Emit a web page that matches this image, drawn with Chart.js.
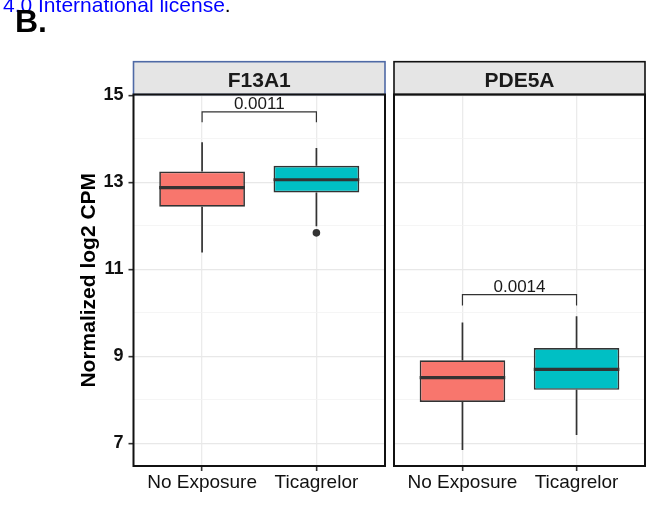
<!DOCTYPE html>
<html>
<head>
<meta charset="utf-8">
<script src="https://cdn.jsdelivr.net/npm/chart.js@4/dist/chart.umd.min.js"></script>
<style>
  html, body { margin: 0; padding: 0; background: #fff; }
  body { width: 654px; height: 508px; position: relative; overflow: hidden; font-family: "Liberation Sans", Arial, sans-serif; }
  canvas { position: absolute; left: 0; top: 0; }
  .license { position: absolute; left: 3px; top: -6px; font-size: 21px; line-height: 21px; color: #0000ff; white-space: nowrap; }
  .license span { color: #000; }
  .tag { position: absolute; left: 15px; top: 5px; font-size: 32px; line-height: 32px; font-weight: bold; color: #000; }
</style>
</head>
<body>
<canvas id="panelF13A1" width="654" height="508"></canvas>
<canvas id="panelPDE5A" width="654" height="508"></canvas>
<div class="license">4.0 International license<span>.</span></div>
<div class="tag">B.</div>
<script>
const categories = ['No Exposure', 'Ticagrelor'];
const genes = ['F13A1', 'PDE5A'];
// [lower whisker, Q1, median, Q3, upper whisker] for each category
const f13a1Stats = [[11.39, 12.44, 12.88, 13.25, 13.92], [11.99, 12.77, 13.06, 13.38, 13.79]];
const pde5aStats = [[6.85, 7.95, 8.51, 8.91, 9.78], [7.19, 8.23, 8.70, 9.19, 9.92]];
const f13a1Outliers = [[], [11.84]];
const pde5aOutliers = [[], []];
const pValues = ['0.0011', '0.0014'];
const bracketTop = [14.62, 10.42];
const bracketFoot = [14.38, 10.17];
const yTicks = [7, 9, 11, 13, 15];
const yRange = [6.48, 15.02];
const fillColors = ['#F8766D', '#00BFC4'];

Chart.defaults.font.family = '"Liberation Sans", Arial, Helvetica, sans-serif';
Chart.defaults.color = '#000';

// whiskers, medians, p-value bracket, strip and panel border
const boxExtras = {
    id: 'boxExtras',
    beforeDatasetsDraw(chart, args, opts) {
        const ctx = chart.ctx;
        const x = chart.scales.x, y = chart.scales.y;
        ctx.save();
        ctx.strokeStyle = '#333333';
        ctx.lineWidth = 1.7;
        opts.stats.forEach((s, i) => {
            const px = x.getPixelForValue(i);
            ctx.beginPath();
            ctx.moveTo(px, y.getPixelForValue(s[0]));
            ctx.lineTo(px, y.getPixelForValue(s[1]));
            ctx.moveTo(px, y.getPixelForValue(s[3]));
            ctx.lineTo(px, y.getPixelForValue(s[4]));
            ctx.stroke();
        });
        ctx.restore();
    },
    afterDatasetsDraw(chart, args, opts) {
        const ctx = chart.ctx;
        const x = chart.scales.x, y = chart.scales.y;
        const meta = chart.getDatasetMeta(0);
        ctx.save();
        ctx.strokeStyle = '#333333';
        ctx.lineWidth = 3.2;
        meta.data.forEach((bar, i) => {
            const {x: bx, width} = bar.getProps(['x', 'width'], true);
            const my = y.getPixelForValue(opts.stats[i][2]);
            ctx.beginPath();
            ctx.moveTo(bx - width / 2, my);
            ctx.lineTo(bx + width / 2, my);
            ctx.stroke();
        });

        // significance bracket
        const x0 = x.getPixelForValue(0), x1 = x.getPixelForValue(1);
        const top = y.getPixelForValue(opts.bracketTop);
        const foot = y.getPixelForValue(opts.bracketFoot);
        ctx.lineWidth = 1.2;
        ctx.beginPath();
        ctx.moveTo(x0, foot);
        ctx.lineTo(x0, top);
        ctx.lineTo(x1, top);
        ctx.lineTo(x1, foot);
        ctx.stroke();
        ctx.fillStyle = '#1a1a1a';
        ctx.font = '17px "Liberation Sans", Arial, sans-serif';
        ctx.textAlign = 'center';
        ctx.textBaseline = 'alphabetic';
        ctx.fillText(opts.pLabel, (x0 + x1) / 2, top - 2.6);
        ctx.restore();
    },
    afterDraw(chart, args, opts) {
        const ctx = chart.ctx;
        const a = chart.chartArea;
        const stripH = 32.8;
        ctx.save();
        ctx.fillStyle = '#e5e5e5';
        ctx.fillRect(a.left, a.top - stripH, a.right - a.left, stripH);
        ctx.strokeStyle = opts.stripBorder;
        ctx.lineWidth = 1.6;
        ctx.strokeRect(a.left, a.top - stripH, a.right - a.left, stripH);
        ctx.fillStyle = '#1a1a1a';
        ctx.font = 'bold 21px "Liberation Sans", Arial, sans-serif';
        ctx.textAlign = 'center';
        ctx.textBaseline = 'alphabetic';
        ctx.fillText(opts.gene, (a.left + a.right) / 2, a.top - 8);
        ctx.strokeStyle = '#111';
        ctx.lineWidth = 2;
        ctx.strokeRect(a.left, a.top, a.right - a.left, a.bottom - a.top);
        ctx.restore();
    }
};

function buildPanel(canvasId, p) {
    const boxes = p.stats.map((s, i) => ({x: i, y: [s[1], s[3]]}));
    const points = p.outliers.flatMap((vals, i) => vals.map(v => ({x: i, y: v})));

    return new Chart(document.getElementById(canvasId), {
        type: 'bar',
        data: {
            datasets: [{
                data: boxes,
                backgroundColor: fillColors,
                borderColor: '#333333',
                borderWidth: 1.7,
                borderSkipped: false,
                categoryPercentage: 1,
                barPercentage: 0.75
            }, {
                type: 'scatter',
                data: points,
                pointRadius: 3.8,
                backgroundColor: '#333333',
                borderWidth: 0
            }]
        },
        options: {
            responsive: false,
            animation: false,
            devicePixelRatio: 1,
            layout: {padding: {left: p.left, right: p.right, top: 94.5, bottom: 0}},
            plugins: {
                legend: {display: false},
                tooltip: {enabled: false},
                boxExtras: {
                    stats: p.stats, gene: p.gene, pLabel: p.pLabel,
                    bracketTop: p.bracketTop, bracketFoot: p.bracketFoot,
                    stripBorder: p.stripBorder
                }
            },
            scales: {
                x: {
                    type: 'linear',
                    min: -0.6,
                    max: 1.6,
                    offset: false,
                    afterFit: s => { s.height = 42; },
                    border: {display: false},
                    grid: {
                        offset: false,
                        color: '#ebebeb',
                        lineWidth: 1.3,
                        tickColor: '#333333',
                        tickWidth: 1.6,
                        tickLength: 5
                    },
                    ticks: {
                        stepSize: 1,
                        includeBounds: false,
                        autoSkip: false,
                        maxRotation: 0,
                        padding: 0.5,
                        color: '#111',
                        font: {size: 19},
                        callback: v => categories[v] ?? ''
                    }
                },
                y: {
                    min: yRange[0],
                    max: yRange[1],
                    beginAtZero: false,
                    afterFit: s => { s.width = p.showY ? 56.5 : 0; },
                    border: {display: false},
                    title: {
                        display: p.showY,
                        text: 'Normalized log2 CPM',
                        color: '#000',
                        font: {size: 21, weight: 'bold'},
                        padding: {top: 0, bottom: 0}
                    },
                    grid: {
                        drawTicks: p.showY,
                        color: c => yTicks.includes(c.tick.value) ? '#e8e8e8' : '#f3f3f3',
                        lineWidth: c => yTicks.includes(c.tick.value) ? 1.3 : 0.8,
                        tickColor: c => yTicks.includes(c.tick.value) ? '#333333' : 'rgba(0,0,0,0)',
                        tickWidth: 1.6,
                        tickLength: 5
                    },
                    ticks: {
                        display: p.showY,
                        stepSize: 1,
                        includeBounds: false,
                        autoSkip: false,
                        padding: 5,
                        color: '#111',
                        font: {size: 18, weight: 'bold'},
                        callback: v => yTicks.includes(v) ? String(v) : ''
                    }
                }
            }
        },
        plugins: [boxExtras]
    });
}

buildPanel('panelF13A1', {
    gene: genes[0], stats: f13a1Stats, outliers: f13a1Outliers, pLabel: pValues[0],
    bracketTop: bracketTop[0], bracketFoot: bracketFoot[0],
    showY: true, left: 77, right: 269, stripBorder: '#4f6aa6'
});

buildPanel('panelPDE5A', {
    gene: genes[1], stats: pde5aStats, outliers: pde5aOutliers, pLabel: pValues[1],
    bracketTop: bracketTop[1], bracketFoot: bracketFoot[1],
    showY: false, left: 394, right: 9, stripBorder: '#111'
});
</script>
</body>
</html>
